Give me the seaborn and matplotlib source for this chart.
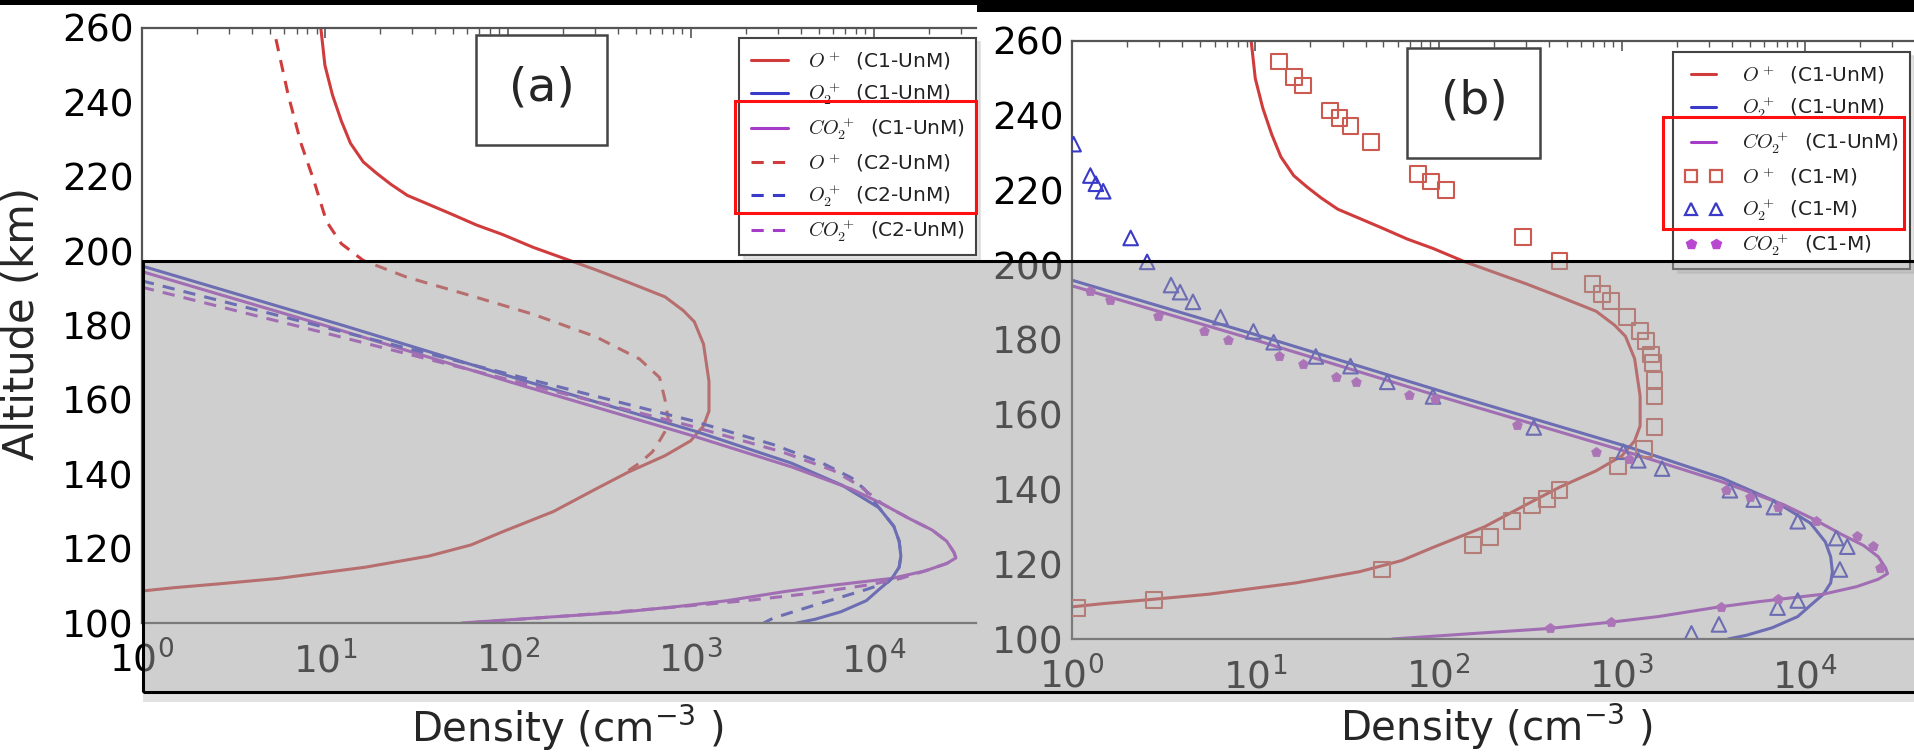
import numpy as np
import pandas as pd
import matplotlib
matplotlib.use("Agg")
import matplotlib.pyplot as plt
import seaborn as sns
from matplotlib.patches import Rectangle
from matplotlib.lines import Line2D
from matplotlib.font_manager import FontProperties

# ---------------- data ----------------
# C1-UnM model profiles (shared by both panels)
op_c1_alt = [260, 250, 242, 235, 229, 224, 221, 218, 215, 212.5, 210, 207, 204.5, 201, 198, 195,
             191.6, 187.7, 184, 181, 175, 165, 157, 153, 149, 145, 140.6, 136, 130, 124.5, 121,
             118, 115, 112, 110.5, 109.5, 108.6]
op_c1_den = [9.5, 10.0, 11.0, 12.3, 13.8, 16.2, 19.1, 22.9, 28.2, 37.2, 49, 67.6, 93.3, 138, 204,
             302, 457, 724, 912, 1047, 1175, 1259, 1259, 1175, 1000, 724, 457, 302, 178, 93.3, 63,
             37, 16.6, 5.6, 2.6, 1.5, 1.0]

o2p_c1_alt = [196, 180, 165, 151.5, 143, 137, 131, 126, 122, 118, 115, 112, 109, 106, 103, 101, 100]
o2p_c1_den = [1.0, 12.6, 126, 1070, 3550, 6760, 10700, 12900, 13800, 14100, 13800, 12600,
              10700, 9120, 6610, 4790, 3800]

co2p_c1_alt = [194.5, 180, 165, 150.5, 142, 136, 132, 128, 125, 122, 119, 117.5, 116, 114, 112,
               110, 108.5, 106, 104.5, 102.8, 101.5, 100]
co2p_c1_den = [1.0, 10, 100, 1000, 3550, 7590, 11200, 15800, 20900, 25100, 27500, 28200, 25100,
               19100, 12600, 5620, 3310, 1580, 871, 398, 158, 56]

# C2-UnM model profiles (panel a)
op_c2_alt = [257, 242, 229, 219, 208, 202, 197.5, 193, 188, 183, 177, 171, 166, 160, 154,
             151.5, 149, 146, 143, 141]
op_c2_den = [5.4, 6.3, 7.4, 8.7, 10.2, 12.3, 16.2, 28, 63, 138, 302, 525, 676, 724, 759,
             724, 676, 617, 525, 457]

o2p_c2_alt = [192, 179.5, 167, 154.5, 148, 143, 139, 136, 131, 126, 122, 118, 115, 112, 111,
              109, 105, 101.3, 100]
o2p_c2_den = [1.0, 10, 100, 1000, 2820, 5250, 7590, 8910, 10700, 12900, 13800, 14100, 13800,
              12600, 12000, 9120, 4900, 2820, 2510]

co2p_c2_alt = [190.3, 178, 165.5, 153, 146, 141, 137, 132, 128, 125, 122, 119, 117.5, 116, 114,
               112, 110.3, 108, 106, 104, 102, 100]
co2p_c2_den = [1.0, 10, 100, 1000, 3160, 6030, 8320, 11200, 15800, 20900, 25100, 27500, 28200,
               25100, 19100, 14100, 9550, 4570, 2000, 708, 224, 60]

# C1-M model points (panel b)
op_m_alt = [254.5, 250.4, 248.1, 241.4, 239.5, 237.3, 233, 224.4, 222.4, 220.2, 207.6, 201.2,
            194.9, 192.3, 190.4, 186.1, 182.5, 179.7, 176.1, 173.9, 169.4, 164.9, 156.8, 150.8,
            146.3, 139.8, 137.5, 135.7, 131.5, 127.2, 125.1, 118.6, 110.5, 108.4]
op_m_den = [13.5, 16.2, 18.2, 25.7, 28.8, 33.1, 42.7, 77.6, 91.2, 110, 288, 457, 692, 776, 871,
            1070, 1260, 1350, 1450, 1480, 1510, 1510, 1510, 1320, 955, 457, 389, 324, 251, 191,
            155, 49, 2.8, 1.07]

o2p_m_alt = [232.4, 224, 221.8, 219.8, 207.3, 200.9, 194.7, 192.8, 190.2, 186.1, 182.3, 179.4,
             175.6, 173, 168.8, 164.9, 156.6, 150.1, 147.8, 145.6, 139.8, 137.3, 135.3, 131.5,
             127, 124.7, 118.6, 110.3, 108.4, 103.9, 101.5]
o2p_m_den = [1.02, 1.26, 1.35, 1.48, 2.09, 2.57, 3.47, 3.89, 4.57, 6.46, 9.77, 12.6, 21.4, 33.1,
             52.5, 93.3, 331, 1020, 1230, 1660, 3890, 5250, 6760, 9120, 14800, 17000, 15500,
             9120, 7080, 3390, 2400]

co2p_m_alt = [193.2, 190.6, 186.4, 182.3, 179.9, 175.6, 173.5, 170, 168.8, 165.3, 164.3, 157.2,
              150.1, 148.2, 139.8, 137.9, 135.3, 131.5, 127.6, 125, 118.9, 110.8, 108.6, 104.5,
              102.9]
co2p_m_den = [1.26, 1.62, 2.95, 5.25, 7.08, 13.5, 18.2, 27.5, 35.5, 69.2, 95.5, 269, 724, 1100,
              3720, 5010, 7080, 11500, 19100, 23400, 25700, 7080, 3470, 871, 407]

legend_a = [r"$O^+$  (C1-UnM)", r"$O_2^+$  (C1-UnM)", r"$CO_2^+$  (C1-UnM)",
            r"$O^+$  (C2-UnM)", r"$O_2^+$  (C2-UnM)", r"$CO_2^+$  (C2-UnM)"]
legend_b = [r"$O^+$  (C1-UnM)", r"$O_2^+$  (C1-UnM)", r"$CO_2^+$  (C1-UnM)",
            r"$O^+$  (C1-M)", r"$O_2^+$  (C1-M)", r"$CO_2^+$  (C1-M)"]
yticks = [100, 120, 140, 160, 180, 200, 220, 240, 260]

# ---------------- style ----------------
sns.set_theme(style="white")
plt.rcParams["font.family"] = ["DejaVu Sans"]
plt.rcParams["axes.unicode_minus"] = True

RED = "#d03c3c"
BLUE = "#3a3ac8"
PURP = "#a43cc8"
SPINE = "#555555"

W, H = 1915, 752
fig = plt.figure(figsize=(W / 100, H / 100), dpi=100)
fig.patch.set_facecolor("white")


def ax_at(x0, y0, x1, y1):
    return fig.add_axes([x0 / W, 1 - y1 / H, (x1 - x0) / W, (y1 - y0) / H])


def style_axis(ax, xmax):
    ax.set_xscale("log")
    ax.set_xlim(1, xmax)
    ax.set_ylim(100, 260)
    ax.set_yticks(yticks)
    ax.set_facecolor("white")
    for side in ["left", "top", "bottom"]:
        ax.spines[side].set_color(SPINE)
        ax.spines[side].set_linewidth(1.6)
    ax.spines["right"].set_visible(False)
    ax.tick_params(axis="both", which="both", direction="in", colors=SPINE,
                   labelcolor="black", top=True, right=False)
    ax.tick_params(axis="both", which="major", length=7, width=1.2, labelsize=27, pad=6)
    ax.tick_params(axis="x", which="major", pad=13)
    ax.tick_params(axis="both", which="minor", length=4, width=1.0)
    ax.set_xlabel("")
    ax.set_ylabel("")


def line(ax, x, y, color, ls="-"):
    sns.lineplot(x=x, y=y, sort=False, estimator=None, ax=ax, color=color,
                 linewidth=2.2, linestyle=ls, legend=False)


leg_prop = FontProperties(family="DejaVu Sans", size=14.5, math_fontfamily="cm")
DASH = (0, (4, 3))
LEG_KW = dict(loc="upper right", bbox_transform=fig.transFigure, borderaxespad=0,
              prop=leg_prop, handlelength=1.85, handletextpad=1.0, labelspacing=0.42,
              borderpad=0.55, fancybox=False, framealpha=1, edgecolor="#444444",
              shadow={"ox": 3, "oy": -3, "color": "0.8"})

# ---------------- panel (a) ----------------
axa = ax_at(142, 28, 976, 623)
line(axa, op_c1_den, op_c1_alt, RED)
line(axa, o2p_c1_den, o2p_c1_alt, BLUE)
line(axa, co2p_c1_den, co2p_c1_alt, PURP)
line(axa, op_c2_den, op_c2_alt, RED, DASH)
line(axa, o2p_c2_den, o2p_c2_alt, BLUE, DASH)
line(axa, co2p_c2_den, co2p_c2_alt, PURP, DASH)
style_axis(axa, 10 ** 4.56)

ha = [Line2D([], [], color=RED, lw=2.2), Line2D([], [], color=BLUE, lw=2.2),
      Line2D([], [], color=PURP, lw=2.2), Line2D([], [], color=RED, lw=2.2, ls=DASH),
      Line2D([], [], color=BLUE, lw=2.2, ls=DASH), Line2D([], [], color=PURP, lw=2.2, ls=DASH)]
lga = axa.legend(ha, legend_a, bbox_to_anchor=(976 / W, 1 - 38 / H), **LEG_KW)
lga.get_frame().set_linewidth(1.5)
for t in lga.get_texts():
    t.set_color("#222222")

# ---------------- panel (b) ----------------
axb = ax_at(1072, 41, 1915, 639)
line(axb, op_c1_den, op_c1_alt, RED)
line(axb, o2p_c1_den, o2p_c1_alt, BLUE)
line(axb, co2p_c1_den, co2p_c1_alt, PURP)
sns.scatterplot(x=op_m_den, y=op_m_alt, ax=axb, marker="s", s=130, facecolors="none",
                edgecolors="#cc5a50", linewidths=1.5, legend=False, zorder=3)
sns.scatterplot(x=o2p_m_den, y=o2p_m_alt, ax=axb, marker="^", s=110, facecolors="none",
                edgecolors=BLUE, linewidths=1.5, legend=False, zorder=3)
sns.scatterplot(x=co2p_m_den, y=co2p_m_alt, ax=axb, marker="p", s=55, color="#b848d0",
                edgecolor="#b848d0", linewidth=0.5, legend=False, zorder=3)
style_axis(axb, 10 ** 4.6)

hb = [Line2D([], [], color=RED, lw=2.2), Line2D([], [], color=BLUE, lw=2.2),
      Line2D([], [], color=PURP, lw=2.2),
      Line2D([], [], ls="none", marker="s", ms=9, mfc="none", mec="#cc5a50", mew=1.6),
      Line2D([], [], ls="none", marker="^", ms=9, mfc="none", mec=BLUE, mew=1.6),
      Line2D([], [], ls="none", marker="p", ms=7, mfc="#b848d0", mec="#b848d0")]
lgb = axb.legend(hb, legend_b, bbox_to_anchor=(1910 / W, 1 - 52 / H), numpoints=2, **LEG_KW)
lgb.get_frame().set_linewidth(1.5)
for t in lgb.get_texts():
    t.set_color("#222222")

# ---------------- figure-level annotations ----------------
def rect_px(x0, y0, x1, y1, **kw):
    r = Rectangle((x0 / W, 1 - y1 / H), (x1 - x0) / W, (y1 - y0) / H,
                  transform=fig.transFigure, **kw)
    fig.add_artist(r)
    return r

# panel tags
rect_px(476, 35, 607, 145, facecolor="white", edgecolor="#444444", lw=1.8, zorder=4)
fig.text(542 / W, 1 - 88 / H, "(a)", fontsize=34, ha="center", va="center", zorder=5)
rect_px(1407, 48, 1540, 158, facecolor="white", edgecolor="#444444", lw=1.8, zorder=4)
fig.text(1474 / W, 1 - 101 / H, "(b)", fontsize=34, ha="center", va="center", zorder=5)

# axis labels
fig.text(22 / W, 1 - 324 / H, "Altitude (km)", fontsize=30, rotation=90,
         ha="center", va="center")
fig.text(567 / W, 1 - 728 / H, r"Density (cm$^{-3}$ )", fontsize=29, ha="center", va="center")
fig.text(1496 / W, 1 - 727 / H, r"Density (cm$^{-3}$ )", fontsize=29, ha="center", va="center")

# grey translucent overlay with shadow strip
rect_px(143, 693, 1915, 702, facecolor="#e2e2e2", edgecolor="none", zorder=9)
rect_px(143, 261, 1917, 692, facecolor="#a0a0a0", alpha=0.5, edgecolor="none", zorder=10)
rect_px(143, 261, 1917, 692, facecolor="none", edgecolor="black", lw=2.2, zorder=11)

# red highlight boxes on legends
rect_px(735, 101, 976, 213, facecolor="none", edgecolor="#ff1010", lw=2.2, zorder=12)
rect_px(1663, 117, 1904, 229, facecolor="none", edgecolor="#ff1010", lw=2.2, zorder=12)

# black strips at the top
rect_px(0, 0, 977, 5, facecolor="black", edgecolor="none", zorder=13)
rect_px(977, 0, 1915, 12, facecolor="black", edgecolor="none", zorder=13)

fig.savefig("out.png", dpi=100, facecolor="white")
